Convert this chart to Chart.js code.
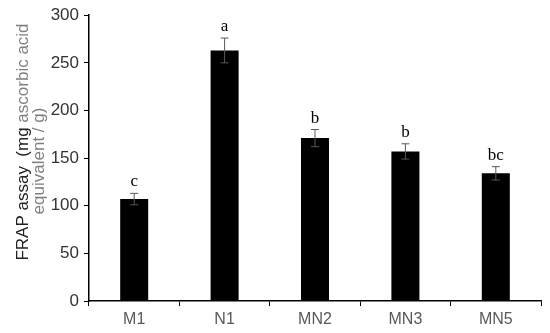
<!DOCTYPE html>
<html>
<head>
<meta charset="utf-8">
<script src="https://cdn.jsdelivr.net/npm/chart.js@4.4.0/dist/chart.umd.min.js"></script>
<style>
  html, body { margin: 0; padding: 0; background: #fff; }
  #wrap { width: 550px; height: 333px; }
</style>
</head>
<body>
<div id="wrap"><canvas id="frap" width="550" height="333"></canvas></div>
<script>
// values
const categories = ['M1', 'N1', 'MN2', 'MN3', 'MN5'];
const means = [107, 263, 171, 157, 134];
const errors = [6, 13, 9, 8, 7];
const letters = ['c', 'a', 'b', 'b', 'bc'];
const yTicks = [0, 50, 100, 150, 200, 250, 300];

// error bars + significance letters
const errorBars = {
  id: 'errorBars',
  afterDatasetsDraw(chart) {
    const ctx = chart.ctx;
    const y = chart.scales.y;
    const meta = chart.getDatasetMeta(0);
    ctx.save();
    meta.data.forEach((bar, i) => {
      const x = bar.x;
      const top = y.getPixelForValue(means[i] + errors[i]);
      const bot = y.getPixelForValue(means[i] - errors[i]);
      ctx.strokeStyle = '#595959';
      ctx.lineWidth = 1;
      ctx.beginPath();
      ctx.moveTo(x, top); ctx.lineTo(x, bot);
      ctx.moveTo(x - 4, top); ctx.lineTo(x + 4, top);
      ctx.moveTo(x - 4, bot); ctx.lineTo(x + 4, bot);
      ctx.stroke();
      ctx.fillStyle = '#000';
      ctx.font = '17px "Liberation Serif", "Times New Roman", serif';
      ctx.textAlign = 'center';
      ctx.textBaseline = 'alphabetic';
      ctx.fillText(letters[i], x, top - 7);
    });
    ctx.restore();
  }
};

// y title in two colours, two lines
const yTitle = {
  id: 'yTitle',
  afterDraw(chart) {
    const ctx = chart.ctx;
    ctx.save();
    ctx.translate(23, 142);
    ctx.rotate(-Math.PI / 2);
    ctx.font = '17px "Liberation Sans", Arial, sans-serif';
    ctx.textBaseline = 'middle';
    const a = 'FRAP assay  (mg ';
    const b = 'ascorbic acid';
    const wa = ctx.measureText(a).width;
    const wb = ctx.measureText(b).width;
    let x0 = -(wa + wb) / 2;
    ctx.textAlign = 'left';
    ctx.fillStyle = '#222';
    ctx.fillText(a, x0, 0);
    ctx.fillStyle = '#7f7f7f';
    ctx.fillText(b, x0 + wa, 0);
    ctx.textAlign = 'center';
    ctx.fillText('equivalent / g)', -19, 16);
    ctx.restore();
  }
};

const ctx = document.getElementById('frap').getContext('2d');
new Chart(ctx, {
  type: 'bar',
  data: {
    labels: categories,
    datasets: [{
      data: means,
      backgroundColor: '#000',
      borderColor: '#333',
      borderWidth: 0,
      barPercentage: 0.31,
      categoryPercentage: 1
    }]
  },
  options: {
    responsive: false,
    animation: false,
    layout: { padding: { top: 15, right: 9, left: 0, bottom: 0 } },
    plugins: { legend: { display: false }, tooltip: { enabled: false } },
    scales: {
      x: {
        grid: { drawOnChartArea: false, drawTicks: true, tickLength: 5, color: '#000', offset: true },
        border: { color: '#000', width: 1.5 },
        ticks: { color: '#595959', font: { family: '"Liberation Sans", Arial, sans-serif', size: 16 }, padding: 4 },
        afterFit(s) { s.height = 32; }
      },
      y: {
        min: 0, max: 300,
        afterBuildTicks(s) { s.ticks = yTicks.map(v => ({ value: v })); },
        grid: { drawOnChartArea: false, drawTicks: true, tickLength: 5, color: '#000' },
        border: { color: '#000', width: 1.5 },
        ticks: { color: '#333', font: { family: '"Liberation Sans", Arial, sans-serif', size: 17 }, padding: 5 },
        afterFit(s) { s.width = 89; }
      }
    }
  },
  plugins: [errorBars, yTitle]
});
</script>
</body>
</html>
